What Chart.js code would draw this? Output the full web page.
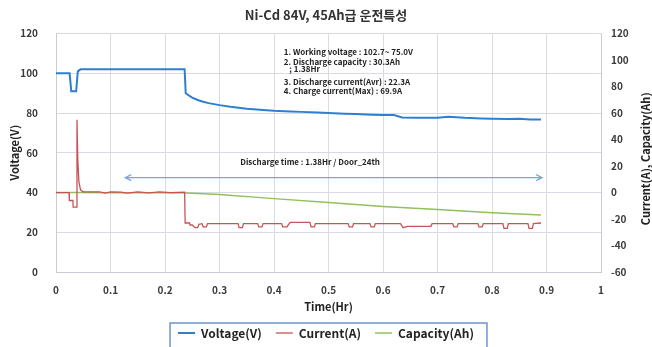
<!DOCTYPE html>
<html>
<head>
<meta charset="utf-8">
<script src="https://cdn.jsdelivr.net/npm/chart.js@4.4.1/dist/chart.umd.min.js"></script>
<style>
html,body{margin:0;padding:0;background:#fff;}
#wrap{width:652px;height:347px;position:relative;}
</style>
</head>
<body>
<div id="wrap"><canvas id="c" width="652" height="347"></canvas></div>
<script>
// ---- data ----
const chartTitle = 'Ni-Cd 84V, 45Ah급 운전특성';
const seriesNames = ['Voltage(V)', 'Current(A)', 'Capacity(Ah)'];
const xTickValues = [0, 0.1, 0.2, 0.3, 0.4, 0.5, 0.6, 0.7, 0.8, 0.9, 1];

// Voltage (left axis)
const volX = [0, 0.025, 0.028, 0.037, 0.040, 0.045, 0.10, 0.15, 0.20, 0.236, 0.238, 0.245, 0.25, 0.26, 0.27, 0.28, 0.30, 0.32, 0.35, 0.38, 0.40, 0.43, 0.45, 0.48, 0.50, 0.53, 0.55, 0.58, 0.60, 0.62, 0.635, 0.66, 0.70, 0.72, 0.75, 0.78, 0.80, 0.83, 0.85, 0.87, 0.89];
const volY = [100, 100, 91, 91, 101, 102, 102, 102, 102, 102, 90, 88.6, 87.8, 86.6, 85.7, 85, 84, 83.2, 82.2, 81.6, 81.2, 80.8, 80.6, 80.3, 80, 79.7, 79.5, 79.2, 79, 79, 77.8, 77.6, 77.7, 78.1, 77.6, 77.3, 77.2, 77, 77.1, 76.8, 76.8];

// Current (right axis)
const curX = [0, 0.024, 0.0245, 0.031, 0.0315, 0.037, 0.0385, 0.040, 0.042, 0.045, 0.05, 0.08, 0.09, 0.10, 0.12, 0.13, 0.15, 0.17, 0.19, 0.21, 0.236,
  0.237, 0.245, 0.246, 0.25, 0.255, 0.26, 0.262,
  0.268, 0.27, 0.276, 0.278,
  0.334, 0.336, 0.342, 0.344,
  0.370, 0.372, 0.378, 0.380,
  0.414, 0.416, 0.424, 0.426, 0.43,
  0.466, 0.468, 0.474, 0.476,
  0.536, 0.538, 0.544, 0.546,
  0.576, 0.578, 0.584, 0.586,
  0.632, 0.637, 0.645, 0.688, 0.69,
  0.728, 0.730, 0.736, 0.738,
  0.774, 0.776, 0.782, 0.784,
  0.820, 0.822, 0.828, 0.830,
  0.866, 0.868, 0.874, 0.876,
  0.89];
const curY = [0, 0, -6, -6, -11, -11, 55, 25, 8, 2, 0.5, 0.5, -0.5, 0.5, 0.3, -0.5, 0.5, -0.3, 0.5, 0, 0.3,
  -23, -23, -24.5, -24.5, -26.5, -26.5, -24,
  -23.5, -26, -26, -23.5,
  -23.5, -26.5, -26.5, -23.5,
  -23.5, -26, -26, -23.5,
  -23.5, -26, -26, -24.5, -22.5,
  -22.5, -26, -26, -23.5,
  -23.5, -26, -26, -23.5,
  -23.5, -26, -26, -23.5,
  -23.5, -26.5, -25.5, -25.5, -23.5,
  -23.5, -26, -26, -23.5,
  -23.5, -26, -26, -23.5,
  -23.5, -27, -27, -23.5,
  -23.5, -27, -27, -23.5,
  -23];

// Capacity (right axis)
const capX = [0, 0.04, 0.10, 0.20, 0.24, 0.30, 0.40, 0.50, 0.60, 0.70, 0.80, 0.89];
const capY = [0, 0, -0.1, -0.2, -0.3, -1.5, -4.6, -7.6, -10.5, -12.9, -15.3, -17];

// Annotation texts
const noteLines = ['1. Working voltage : 102.7~ 75.0V', '2. Discharge capacity : 30.3Ah', '   ; 1.38Hr', '3. Discharge current(Avr) : 22.3A', '4. Charge current(Max) : 69.9A'];
const dischargeNote = 'Discharge time : 1.38Hr / Door_24th';
const arrowRange = [0.127, 0.892]; // in x-axis units (Hr)
const arrowLevel = 47.5;            // in left axis units

const pts = (xs, ys) => xs.map((x, i) => ({x: x, y: ys[i]}));

const FONT = "'Noto Sans CJK KR', 'Open Sans', sans-serif";
const gridColor = '#d8dae6';
const tickColor = '#3a3a3a';

const annotPlugin = {
  id: 'annot',
  afterDatasetsDraw(chart) {
    const ctx = chart.ctx;
    const xs = chart.scales.x, yl = chart.scales.y;
    ctx.save();
    ctx.font = "bold 8px " + FONT;
    ctx.fillStyle = '#222';
    ctx.textBaseline = 'middle';
    ctx.textAlign = 'left';
    const nx = xs.getPixelForValue(0.418);
    const lineYs = [110.8, 105.8, 102.0, 95.7, 91.2];
    noteLines.forEach((t, i) => {
      ctx.fillText(t, nx, yl.getPixelForValue(lineYs[i]));
    });
    ctx.fillText(dischargeNote, xs.getPixelForValue(0.338), yl.getPixelForValue(55.5));
    const ax1 = xs.getPixelForValue(arrowRange[0]);
    const ax2 = xs.getPixelForValue(arrowRange[1]);
    const ay = yl.getPixelForValue(arrowLevel);
    ctx.strokeStyle = '#7aa6dc';
    ctx.lineWidth = 1.2;
    ctx.beginPath();
    ctx.moveTo(ax1, ay); ctx.lineTo(ax2, ay);
    ctx.moveTo(ax1 + 6, ay - 3); ctx.lineTo(ax1, ay); ctx.lineTo(ax1 + 6, ay + 3);
    ctx.moveTo(ax2 - 6, ay - 3); ctx.lineTo(ax2, ay); ctx.lineTo(ax2 - 6, ay + 3);
    ctx.stroke();
    ctx.restore();
  },
  afterDraw(chart) {
    const ctx = chart.ctx;
    const ca = chart.chartArea;
    ctx.save();
    ctx.font = "bold 11px " + FONT;
    ctx.fillStyle = '#222';
    ctx.textAlign = 'center';
    ctx.textBaseline = 'middle';
    ctx.translate(646, (ca.top + ca.bottom) / 2 + 6);
    ctx.rotate(-Math.PI / 2);
    ctx.fillText('Current(A), Capacity(Ah)', 0, 0);
    ctx.restore();
    const lg = chart.legend;
    if (lg && lg.legendHitBoxes && lg.legendHitBoxes.length) {
      const hb = lg.legendHitBoxes;
      const l = Math.min(...hb.map(b => b.left)) - 8;
      const r = Math.max(...hb.map(b => b.left + b.width)) + 13;
      const t = Math.min(...hb.map(b => b.top)) - 4;
      ctx.save();
      ctx.strokeStyle = '#6f93cc';
      ctx.lineWidth = 1.5;
      ctx.strokeRect(l, t, r - l, 40);
      ctx.restore();
    }
  }
};

new Chart(document.getElementById('c'), {
  type: 'line',
  data: {
    datasets: [
      {label: seriesNames[0], data: pts(volX, volY), yAxisID: 'y', borderColor: '#2f7fd0', backgroundColor: '#2f7fd0', borderWidth: 2},
      {label: seriesNames[1], data: pts(curX, curY), yAxisID: 'y2', borderColor: '#c65456', backgroundColor: '#c65456', borderWidth: 1.3},
      {label: seriesNames[2], data: pts(capX, capY), yAxisID: 'y2', borderColor: '#93c05a', backgroundColor: '#93c05a', borderWidth: 1.5}
    ]
  },
  options: {
    responsive: false,
    animation: false,
    devicePixelRatio: 1,
    elements: {point: {radius: 0}, line: {tension: 0}},
    layout: {autoPadding: false, padding: {top: 0, left: 0, right: 0, bottom: -2}},
    plugins: {
      title: {display: true, text: chartTitle, color: '#333', font: {family: FONT, size: 13, weight: 'bold'}, padding: {top: 7, bottom: 11}},
      legend: {
        position: 'bottom',
        labels: {usePointStyle: true, pointStyle: 'line', pointStyleWidth: 17, boxHeight: 8, padding: 14, color: '#222', font: {family: FONT, size: 12, weight: 'bold'}}
      },
      tooltip: {enabled: false}
    },
    scales: {
      x: {
        type: 'linear', min: 0, max: 1,
        afterBuildTicks: (s) => { s.ticks = xTickValues.map(v => ({value: v})); },
        ticks: {color: tickColor, font: {family: FONT, size: 10, weight: 'bold'}, padding: 12, maxRotation: 0,
          callback: (v) => String(Number(v.toFixed(1)))},
        grid: {color: gridColor, drawTicks: false},
        border: {color: '#c8cad6'},
        title: {display: true, text: 'Time(Hr)', color: '#222', font: {family: FONT, size: 11, weight: 'bold'}, padding: {top: 2, bottom: 0}},
        afterFit: (s) => { s.height = 41; }
      },
      y: {
        position: 'left', min: 0, max: 120,
        ticks: {stepSize: 20, color: tickColor, font: {family: FONT, size: 10, weight: 'bold'}, padding: 18},
        grid: {color: gridColor, drawTicks: false},
        border: {color: '#c8cad6'},
        title: {display: true, text: 'Voltage(V)', color: '#222', font: {family: FONT, size: 11, weight: 'bold'}, padding: {top: 8, bottom: 0}},
        afterFit: (s) => { s.width = 56; }
      },
      y2: {
        position: 'right', min: -60, max: 120,
        ticks: {stepSize: 20, color: tickColor, font: {family: FONT, size: 10, weight: 'bold'}, padding: 10},
        grid: {display: false, drawTicks: false},
        border: {color: '#c8cad6'},
        afterFit: (s) => { s.width = 51; }
      }
    }
  },
  plugins: [annotPlugin]
});
</script>
</body>
</html>
